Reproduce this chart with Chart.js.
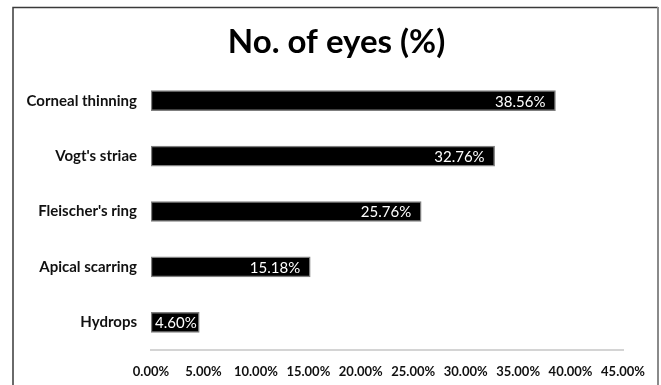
<!DOCTYPE html>
<html>
<head>
<meta charset="utf-8">
<script src="https://cdn.jsdelivr.net/npm/chart.js@4/dist/chart.umd.min.js"></script>
<style>
  html, body { margin: 0; padding: 0; background: #ffffff; }
  #wrap { position: relative; width: 661px; height: 385px; }
</style>
</head>
<body>
<div id="wrap"><canvas id="c" width="661" height="385"></canvas></div>
<script>
const categories = ["Corneal thinning", "Vogt's striae", "Fleischer's ring", "Apical scarring", "Hydrops"];
const values = [38.56, 32.76, 25.76, 15.18, 4.60];
const titleText = "No. of eyes (%)";
const xMax = 45;
const xStep = 5;

const frame = {
  id: 'frame',
  beforeDraw(chart) {
    const ctx = chart.ctx;
    ctx.save();
    ctx.fillStyle = '#ffffff';
    ctx.fillRect(0, 0, chart.width, chart.height);
    ctx.strokeStyle = '#3a3a3a';
    ctx.lineWidth = 1.5;
    ctx.beginPath();
    ctx.moveTo(13, 385); ctx.lineTo(13, 7.5); ctx.lineTo(658, 7.5);
    ctx.stroke();
    ctx.strokeStyle = '#8a8a8a';
    ctx.lineWidth = 2;
    ctx.beginPath();
    ctx.moveTo(658, 7); ctx.lineTo(658, 385);
    ctx.stroke();
    ctx.restore();
  }
};

const chartTitle = {
  id: 'chartTitle',
  afterDraw(chart) {
    const ctx = chart.ctx;
    ctx.save();
    ctx.font = 'bold 33px Lato';
    ctx.fillStyle = '#000000';
    ctx.textAlign = 'center';
    ctx.textBaseline = 'middle';
    ctx.fillText(titleText, chart.width / 2 + 6, 42);
    ctx.restore();
  }
};

const barLabels = {
  id: 'barLabels',
  afterDatasetsDraw(chart) {
    const ctx = chart.ctx;
    const meta = chart.getDatasetMeta(0);
    ctx.save();
    ctx.font = '15px Lato';
    ctx.fillStyle = '#ffffff';
    ctx.textBaseline = 'middle';
    meta.data.forEach((bar, i) => {
      const txt = values[i].toFixed(2) + '%';
      const w = ctx.measureText(txt).width;
      let x = bar.x - 10;
      if (x - w < bar.base + 4) x = bar.base + 4 + w;
      ctx.textAlign = 'right';
      ctx.fillText(txt, x, bar.y + 1);
    });
    ctx.restore();
  }
};

new Chart(document.getElementById('c'), {
  type: 'bar',
  data: {
    labels: categories,
    datasets: [{
      data: values,
      backgroundColor: '#000000',
      borderColor: '#7f7f7f',
      borderWidth: 1.5,
      borderSkipped: false,
      barThickness: 20
    }]
  },
  plugins: [frame, barLabels, chartTitle],
  options: {
    indexAxis: 'y',
    responsive: false,
    animation: false,
    layout: { padding: { left: 14, right: 38, top: 73, bottom: 0 } },
    plugins: {
      legend: { display: false },
      tooltip: { enabled: false },
      title: { display: false }
    },
    scales: {
      x: {
        min: 0,
        max: xMax,
        ticks: {
          stepSize: xStep,
          color: '#111111',
          font: { family: 'Lato', size: 13, weight: 'bold' },
          padding: 14,
          maxRotation: 0,
          autoSkip: false,
          callback: (v) => Number(v).toFixed(2) + '%'
        },
        grid: { display: false, drawTicks: false },
        border: { display: true, color: '#d4d4d4', width: 2 },
        afterFit(scale) { scale.height = 35; }
      },
      y: {
        ticks: {
          color: '#111111',
          font: { family: 'Lato', size: 15, weight: 'bold' },
          padding: 14
        },
        grid: { display: false, drawTicks: false },
        border: { display: false },
        afterFit(scale) { scale.width = 137; }
      }
    }
  }
});
</script>
</body>
</html>
